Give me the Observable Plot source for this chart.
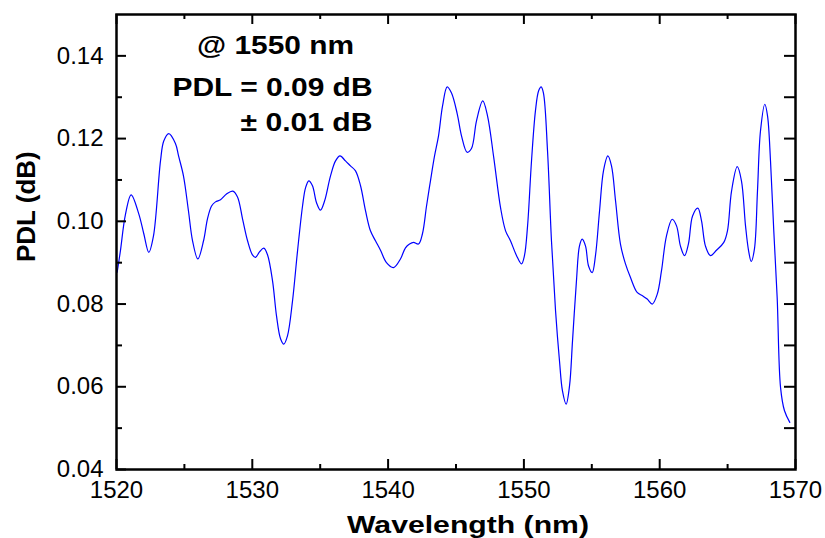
<!DOCTYPE html>
<html>
<head>
<meta charset="utf-8">
<script src="https://cdn.jsdelivr.net/npm/d3@7"></script>
<script src="https://cdn.jsdelivr.net/npm/@observablehq/plot@0.6"></script>
<style>
  html, body { margin: 0; padding: 0; background: white; }
  #chart { width: 825px; height: 538px; }
</style>
</head>
<body>
<div id="chart"></div>
<script>
const wavelength = [1520.05,1520.29,1520.65,1521.08,1521.64,1522.01,1522.38,1522.72,1523.24,1523.48,
  1523.85,1524.34,1524.57,1524.93,1525.30,1525.60,1525.99,1526.41,1526.70,1527.00,
  1527.29,1527.66,1528.10,1528.56,1528.91,1529.28,1529.65,1530.01,1530.24,1530.53,
  1530.85,1531.12,1531.49,1531.78,1532.08,1532.32,1532.59,1532.96,1533.33,1533.70,
  1533.92,1534.16,1534.43,1534.73,1535.02,1535.32,1535.76,1536.13,1536.46,1536.86,
  1537.23,1537.60,1537.97,1538.34,1538.70,1539.07,1539.44,1539.88,1540.40,1540.91,
  1541.28,1541.58,1541.87,1542.24,1542.53,1542.83,1543.12,1543.42,1543.71,1544.01,
  1544.35,1544.67,1545.09,1545.41,1545.82,1546.14,1546.51,1546.97,1547.32,1547.78,
  1548.28,1548.65,1549.01,1549.46,1549.82,1550.04,1550.27,1550.56,1550.85,1551.08,
  1551.27,1551.44,1551.74,1552.03,1552.33,1552.62,1552.84,1553.11,1553.36,1553.58,
  1553.87,1554.09,1554.29,1554.54,1554.76,1555.03,1555.27,1555.57,1555.86,1556.18,
  1556.45,1556.75,1557.11,1557.48,1557.85,1558.34,1558.73,1559.08,1559.45,1559.82,
  1560.13,1560.50,1560.92,1561.24,1561.53,1561.83,1562.12,1562.42,1562.81,1563.08,
  1563.37,1563.74,1564.18,1564.72,1564.99,1565.29,1565.71,1566.02,1566.32,1566.54,
  1566.74,1566.98,1567.20,1567.42,1567.74,1567.94,1568.16,1568.40,1568.65,1568.90,
  1569.19,1569.58];
const pdl = [0.0877,0.0929,0.1015,0.1064,0.1018,0.0970,0.0925,0.0964,0.1146,0.1194,
  0.1212,0.1188,0.1158,0.1110,0.1025,0.0953,0.0909,0.0953,0.1006,0.1037,
  0.1047,0.1052,0.1066,0.1073,0.1059,0.1006,0.0953,0.0919,0.0913,0.0926,
  0.0935,0.0919,0.0856,0.0772,0.0716,0.0703,0.0723,0.0807,0.0928,0.1037,
  0.1081,0.1098,0.1086,0.1045,0.1027,0.1049,0.1110,0.1146,0.1158,0.1146,
  0.1134,0.1122,0.1086,0.1025,0.0977,0.0953,0.0930,0.0900,0.0888,0.0909,
  0.0936,0.0945,0.0949,0.0945,0.0970,0.1037,0.1098,0.1158,0.1206,0.1279,
  0.1325,0.1310,0.1260,0.1206,0.1167,0.1176,0.1243,0.1291,0.1255,0.1154,
  0.1033,0.0977,0.0953,0.0917,0.0897,0.0917,0.0989,0.1146,0.1267,0.1315,
  0.1325,0.1310,0.1170,0.0953,0.0784,0.0663,0.0590,0.0558,0.0602,0.0711,
  0.0856,0.0940,0.0957,0.0940,0.0892,0.0876,0.0917,0.1025,0.1122,0.1158,
  0.1134,0.1049,0.0945,0.0897,0.0864,0.0828,0.0820,0.0812,0.0800,0.0824,
  0.0880,0.0965,0.1005,0.0989,0.0940,0.0917,0.0946,0.1013,0.1032,0.1001,
  0.0940,0.0917,0.0930,0.0949,0.0977,0.1073,0.1132,0.1098,0.0989,0.0930,
  0.0903,0.0934,0.1073,0.1218,0.1283,0.1255,0.1146,0.0977,0.0816,0.0598,
  0.0542,0.0514];

const xMajorTicks = [1520, 1530, 1540, 1550, 1560, 1570];
const xMinorTicks = [1525, 1535, 1545, 1555, 1565];
const yMajorTicks = [0.04, 0.06, 0.08, 0.10, 0.12, 0.14];
const yMinorTicks = [0.05, 0.07, 0.09, 0.11, 0.13];
const yAllTicks = [0.05, 0.06, 0.07, 0.08, 0.09, 0.10, 0.11, 0.12, 0.13, 0.14];
const xDomain = [1520, 1570];
const yDomain = [0.04, 0.15];
const xTitle = "Wavelength (nm)";
const yTitle = "PDL (dB)";
const note1 = "@ 1550 nm";
const note2 = "PDL = 0.09 dB";
const note3 = "± 0.01 dB";

const data = wavelength.map((w, i) => ({w, p: pdl[i]}));
const yBot = yDomain[0], yTop = yDomain[1], xL = xDomain[0], xR = xDomain[1];

const chart = Plot.plot({
  width: 825,
  height: 538,
  marginLeft: 116,
  marginRight: 30,
  marginTop: 14,
  marginBottom: 69,
  x: {domain: xDomain},
  y: {domain: yDomain},
  style: {fontFamily: "'Liberation Sans', Arial, sans-serif", fontSize: "24px", color: "black", background: "white"},
  marks: [
    Plot.line(data, {x: "w", y: "p", stroke: "#0000ff", strokeWidth: 1.2, curve: "catmull-rom"}),
    Plot.ruleX(xMajorTicks, {x: d => d, y1: yBot, y2: yBot, insetBottom: 10, stroke: "black", strokeWidth: 2}),
    Plot.ruleX(xMinorTicks, {x: d => d, y1: yBot, y2: yBot, insetBottom: 5, stroke: "black", strokeWidth: 2}),
    Plot.ruleX(xMajorTicks, {x: d => d, y1: yTop, y2: yTop, insetTop: 10, stroke: "black", strokeWidth: 2}),
    Plot.ruleX(xMinorTicks, {x: d => d, y1: yTop, y2: yTop, insetTop: 5, stroke: "black", strokeWidth: 2}),
    Plot.ruleY(yMajorTicks, {y: d => d, x1: xL, x2: xL, insetLeft: 10, stroke: "black", strokeWidth: 2}),
    Plot.ruleY(yMinorTicks, {y: d => d, x1: xL, x2: xL, insetLeft: 6, stroke: "black", strokeWidth: 2}),
    Plot.ruleY(yAllTicks, {y: d => d, x1: xR, x2: xR, insetRight: 11, stroke: "black", strokeWidth: 2}),
    Plot.frame({stroke: "black", strokeWidth: 2.5}),
    Plot.axisX(xMajorTicks, {anchor: "bottom", tickSize: 0, tickPadding: 11, label: null, fontSize: 24, tickFormat: d => String(d)}),
    Plot.axisY(yMajorTicks, {anchor: "left", tickSize: 0, tickPadding: 13, label: null, fontSize: 24, letterSpacing: 1, tickFormat: d3.format(".2f")}),
    Plot.text([xTitle], {frameAnchor: "bottom", text: d => d, dx: 12, dy: 63, lineAnchor: "bottom", fontWeight: "bold", fontSize: 24}),
    Plot.text([yTitle], {frameAnchor: "left", text: d => d, rotate: -90, dx: -90, dy: 20, lineAnchor: "middle", fontWeight: "bold", fontSize: 26}),
    Plot.text([note1], {frameAnchor: "top-left", text: d => d, dx: 159, dy: 39, lineAnchor: "bottom", textAnchor: "middle", fontWeight: "bold", fontSize: 25}),
    Plot.text([note2], {frameAnchor: "top-left", text: d => d, dx: 256, dy: 81, lineAnchor: "bottom", textAnchor: "end", fontWeight: "bold", fontSize: 25}),
    Plot.text([note3], {frameAnchor: "top-left", text: d => d, dx: 256, dy: 116, lineAnchor: "bottom", textAnchor: "end", fontWeight: "bold", fontSize: 25})
  ]
});

const widths = {};
widths[xTitle] = 242;
widths[note1] = 157;
widths[note2] = 200;
widths[note3] = 132;
d3.select(chart).selectAll("text").each(function() {
  const t = this.textContent;
  if (widths[t]) {
    d3.select(this).attr("textLength", widths[t]).attr("lengthAdjust", "spacingAndGlyphs");
  }
});

document.getElementById("chart").appendChild(chart);
</script>
</body>
</html>
